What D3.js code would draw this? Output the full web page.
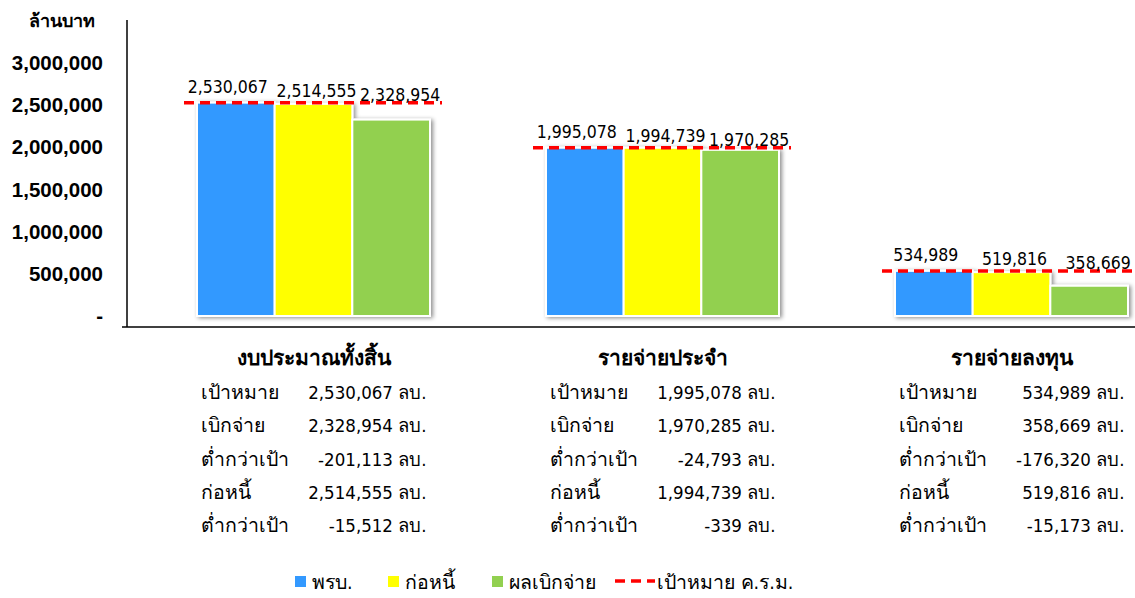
<!DOCTYPE html>
<html>
<head>
<meta charset="utf-8">
<script src="https://cdn.jsdelivr.net/npm/d3@7"></script>
<style>
  body { margin: 0; background: #fff; }
  svg { font-family: "DejaVu Sans Condensed", "DejaVu Sans", sans-serif; font-stretch: condensed; }
</style>
</head>
<body>
<svg id="chart" width="1135" height="598"></svg>
<script>
// data
const categories = ["งบประมาณทั้งสิ้น", "รายจ่ายประจำ", "รายจ่ายลงทุน"];
const seriesNames = ["พรบ.", "ก่อหนี้", "ผลเบิกจ่าย"];
const seriesColors = ["#3399ff", "#ffff00", "#92d050"];
const actValues = [2530067, 1995078, 534989];
const debtValues = [2514555, 1994739, 519816];
const disburseValues = [2328954, 1970285, 358669];
const targetValues = [2530067, 1995078, 534989];
const belowDisburse = [-201113, -24793, -176320];
const belowDebt = [-15512, -339, -15173];
const yTicks = [0, 500000, 1000000, 1500000, 2000000, 2500000, 3000000];
const rowLabels = ["เป้าหมาย", "เบิกจ่าย", "ต่ำกว่าเป้า", "ก่อหนี้", "ต่ำกว่าเป้า"];
const unitLabel = "ล้านบาท";
const targetLabel = "เป้าหมาย ค.ร.ม.";

const svg = d3.select("#chart");
const fmt = d3.formatLocale({ decimal: ".", thousands: ",", grouping: [3], currency: ["", ""], minus: "-" }).format(",");

const y = d3.scaleLinear().domain([0, 3000000]).range([316, 63]);
const x = d3.scaleBand().domain(categories).range([139, 1186]);
const groupW = 233;
const xs = d3.scaleBand().domain(d3.range(3)).range([0, groupW]);

const defs = svg.append("defs");
defs.append("filter").attr("id", "shadow")
    .attr("x", "-20%").attr("y", "-20%").attr("width", "140%").attr("height", "140%")
  .append("feDropShadow")
    .attr("dx", 2).attr("dy", 1).attr("stdDeviation", 2)
    .attr("flood-color", "#000").attr("flood-opacity", 0.45);

// axes lines
svg.append("line").attr("x1", 127).attr("x2", 127).attr("y1", 20).attr("y2", 327)
    .attr("stroke", "#000").attr("stroke-width", 1.5);
svg.append("line").attr("x1", 122).attr("x2", 1135).attr("y1", 327).attr("y2", 327)
    .attr("stroke", "#000").attr("stroke-width", 1.5);

const yAxis = svg.append("g").attr("transform", "translate(127,0)")
    .call(d3.axisLeft(y).tickValues(yTicks).tickSize(0).tickPadding(24)
      .tickFormat(d => d === 0 ? "-" : fmt(d)));
yAxis.select(".domain").remove();
yAxis.selectAll("text").attr("font-size", 20.5).attr("font-weight", "bold")
    .attr("font-family", null).attr("fill", "#000");

svg.append("text").attr("x", 62).attr("y", 27).attr("text-anchor", "middle")
    .attr("font-size", 18).attr("font-weight", "bold").text(unitLabel);

const series = [actValues, debtValues, disburseValues];
const labelDx = [-8, 3, 9];
const labelDy = [-10, -6, -2];

categories.forEach(function(cat, ci) {
  const gx = x(cat) + (x.bandwidth() - groupW) / 2;
  const g = svg.append("g").attr("transform", "translate(" + gx + ",0)");

  g.append("g").attr("filter", "url(#shadow)")
    .selectAll("rect")
    .data(series.map((s, si) => ({ v: s[ci], si: si })))
    .enter().append("rect")
      .attr("x", d => xs(d.si))
      .attr("width", xs.bandwidth())
      .attr("y", d => y(d.v))
      .attr("height", d => y(0) - y(d.v))
      .attr("fill", d => seriesColors[d.si])
      .attr("stroke", "#fff").attr("stroke-width", 2);

  // target line
  g.append("line")
    .attr("x1", -13).attr("x2", groupW + 12)
    .attr("y1", y(targetValues[ci])).attr("y2", y(targetValues[ci]))
    .attr("stroke", "#ff0000").attr("stroke-width", 3.5)
    .attr("stroke-dasharray", "10,6");

  // value labels
  series.forEach(function(s, si) {
    g.append("text")
      .attr("x", xs(si) + xs.bandwidth() / 2 + labelDx[si])
      .attr("y", y(targetValues[ci]) + labelDy[si])
      .attr("text-anchor", "middle")
      .attr("font-size", 17.5)
      .text(fmt(s[ci]));
  });

  // category title + table
  const cx = x(cat) + x.bandwidth() / 2;
  svg.append("text").attr("x", cx).attr("y", 365).attr("text-anchor", "middle")
    .attr("font-size", 21).attr("font-weight", "bold").text(cat);

  const rowVals = [targetValues[ci], disburseValues[ci], belowDisburse[ci], debtValues[ci], belowDebt[ci]];
  rowLabels.forEach(function(lbl, ri) {
    const ty = 399 + ri * 33.3;
    svg.append("text").attr("x", cx - 113).attr("y", ty)
      .attr("font-size", 19.5).text(lbl);
    svg.append("text").attr("x", cx + 113).attr("y", ty).attr("text-anchor", "end")
      .attr("font-size", 18.5).text(fmt(rowVals[ri]) + " ลบ.");
  });
});

// legend
const legendX = [0, 93, 197, 320];
const legend = svg.append("g").attr("transform", "translate(295,581)");
seriesNames.forEach(function(name, i) {
  legend.append("rect").attr("x", legendX[i]).attr("y", -5).attr("width", 11).attr("height", 11)
    .attr("fill", seriesColors[i]);
  legend.append("text").attr("x", legendX[i] + 17).attr("y", 8)
    .attr("font-size", 19.5).text(name);
});
legend.append("line").attr("x1", legendX[3]).attr("x2", legendX[3] + 40).attr("y1", 0).attr("y2", 0)
  .attr("stroke", "#ff0000").attr("stroke-width", 3.5).attr("stroke-dasharray", "10,6");
legend.append("text").attr("x", legendX[3] + 42).attr("y", 8)
  .attr("font-size", 19.5).text(targetLabel);
</script>
</body>
</html>
